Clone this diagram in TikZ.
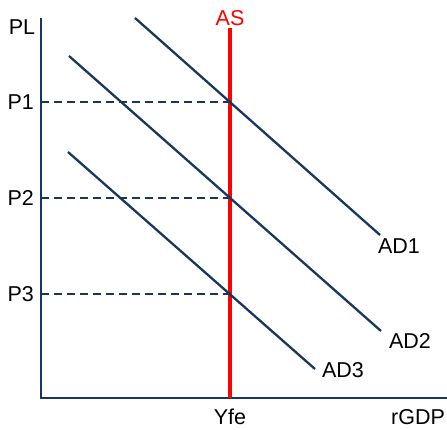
\documentclass[tikz,border=0pt]{standalone}
\usepackage{fontspec}
\setmainfont{Liberation Sans}
\usetikzlibrary{positioning}
\definecolor{navy}{RGB}{23,55,94}
\definecolor{asred}{RGB}{255,0,0}

\begin{document}
\begin{tikzpicture}[x=1pt, y=-1pt,
		every node/.style={font=\fontsize{21.5}{25}\selectfont, inner sep=0pt, text depth=0pt},
		axis/.style={navy, line width=2.8pt},
		adline/.style={navy, line width=2.3pt},
		guide/.style={navy, line width=2.2pt, dash pattern=on 8pt off 5pt}]
	\useasboundingbox (0,0) rectangle (447,430);
	% axes
	\coordinate (O) at (41,398);
	\coordinate (ytop) at (41,18);
	\coordinate (xend) at (447,398);
	\draw[axis] (ytop) -- (O) -- (xend);
	\node (pl) at (22,27.5) {PL};
	\node (rgdp) at (418,417) {rGDP};
	% long-run supply
	\coordinate (astop) at (230,28);
	\coordinate (asfoot) at (230,398);
	\draw[asred, line width=3.8pt] (astop) -- (asfoot);
	\node[text=asred, above=2pt of astop] (as) {AS};
	\node[below=11pt of asfoot] (yfe) {Yfe};
	% demand curves, each with its label
	\foreach \n/\sx/\sy/\ex/\ey/\lx/\ly in {1/135/18/380/235/399/246, 2/69/56/381/331/410/341, 3/68/152/315/369/343/370}{
		\coordinate (ad\n s) at (\sx,\sy);
		\coordinate (ad\n e) at (\ex,\ey);
		\draw[adline] (ad\n s) -- (ad\n e);
		\node (lab\n) at (\lx,\ly) {AD\n};
	}
	% price levels where AD meets AS
	\foreach \n/\y in {1/102, 2/198, 3/294}{
		\coordinate (eq\n) at (230,\y);
		\coordinate (py\n) at (41,\y);
		\draw[guide] (py\n) -- (eq\n);
		\node[left=7pt of py\n] (p\n) {P\n};
	}
\end{tikzpicture}
\end{document}
